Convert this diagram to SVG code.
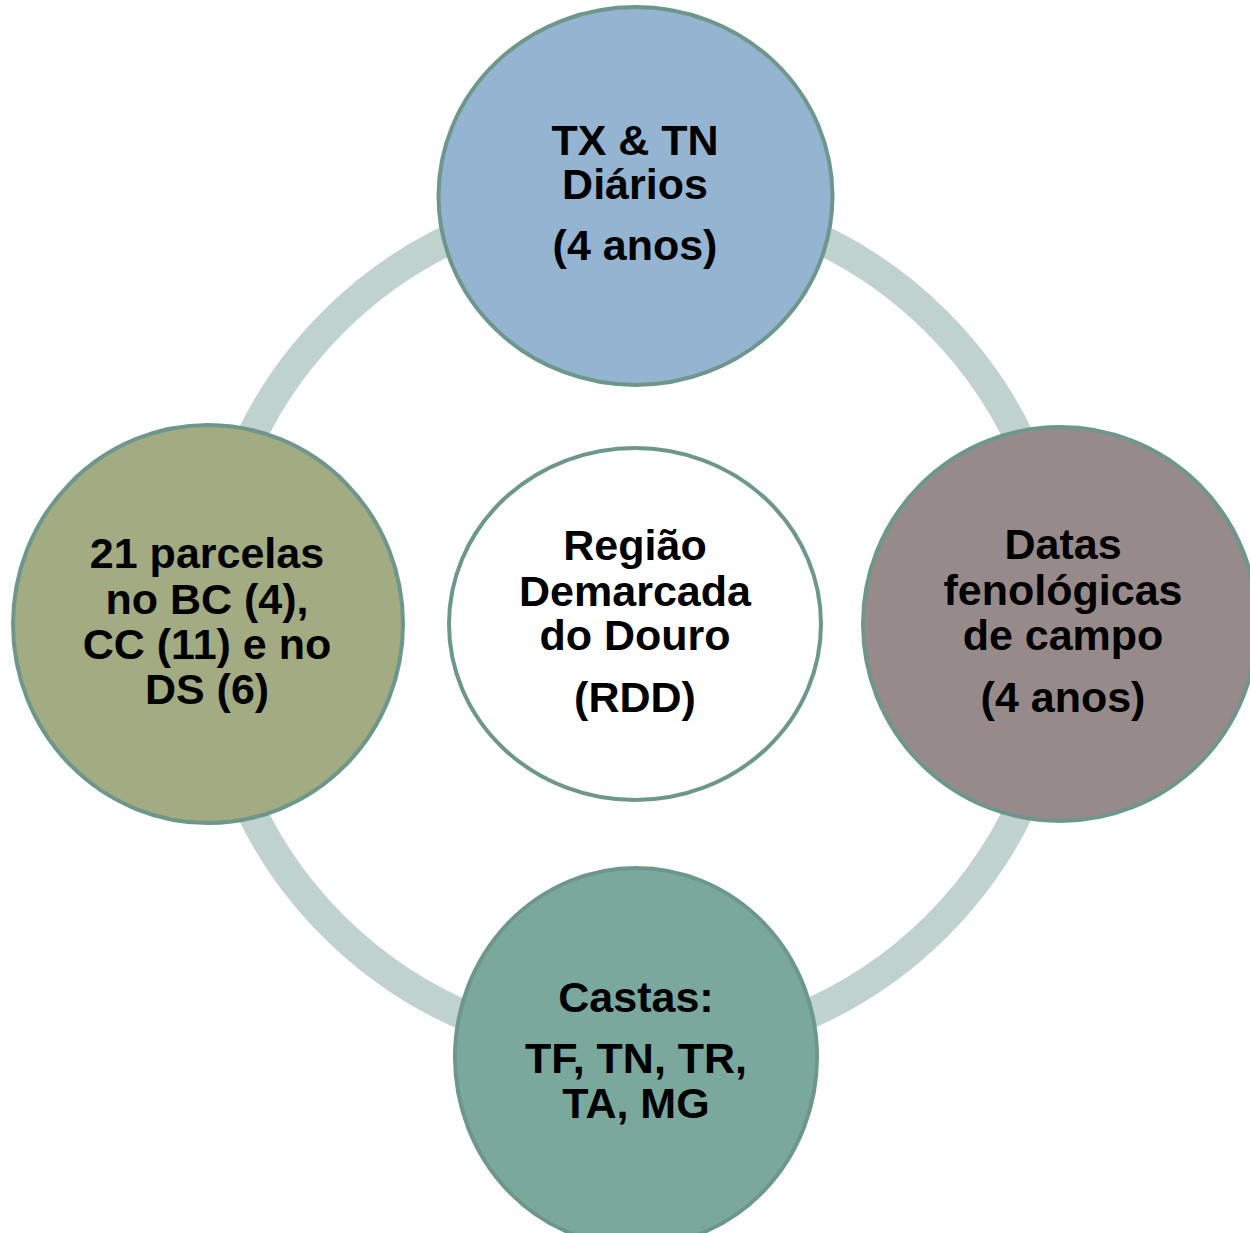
<svg xmlns="http://www.w3.org/2000/svg" width="1250" height="1233" viewBox="0 0 1250 1233">
<style>
.node{stroke:#6E978C;stroke-width:4}
.t{font-family:"Liberation Sans",Arial,sans-serif;font-weight:bold;font-size:43px;fill:#000;text-anchor:middle}
</style>
<rect width="1250" height="1233" fill="#fff"/>
<g id="connectors">
<circle cx="635" cy="624" r="427" fill="none" stroke="#C0D2CE" stroke-width="30"/>
</g>
<g id="center">
<ellipse class="node" cx="635" cy="624" rx="186" ry="176" fill="#fff"/>
<text class="t" x="635" y="560">Região</text>
<text class="t" x="635" y="606">Demarcada</text>
<text class="t" x="635" y="650">do Douro</text>
<text class="t" x="635" y="712">(RDD)</text>
</g>
<g id="top">
<ellipse class="node" cx="635.5" cy="196" rx="197" ry="189" fill="#94B4D2"/>
<text class="t" x="635" y="155">TX &amp; TN</text>
<text class="t" x="635" y="199">Diários</text>
<text class="t" x="635" y="260">(4 anos)</text>
</g>
<g id="left">
<ellipse class="node" cx="208" cy="624" rx="195" ry="199" fill="#A3AB82"/>
<text class="t" x="207" y="568">21 parcelas</text>
<text class="t" x="207" y="614">no BC (4),</text>
<text class="t" x="207" y="659">CC (11) e no</text>
<text class="t" x="207" y="704">DS (6)</text>
</g>
<g id="right">
<ellipse class="node" cx="1060" cy="624" rx="197" ry="197" fill="#968B8A"/>
<text class="t" x="1063" y="559">Datas</text>
<text class="t" x="1063" y="605">fenológicas</text>
<text class="t" x="1063" y="650">de campo</text>
<text class="t" x="1063" y="712">(4 anos)</text>
</g>
<g id="bottom">
<ellipse class="node" cx="636" cy="1057" rx="181" ry="189" fill="#7BA89D"/>
<text class="t" x="636" y="1012">Castas:</text>
<text class="t" x="636" y="1073">TF, TN, TR,</text>
<text class="t" x="636" y="1118">TA, MG</text>
</g>
</svg>
